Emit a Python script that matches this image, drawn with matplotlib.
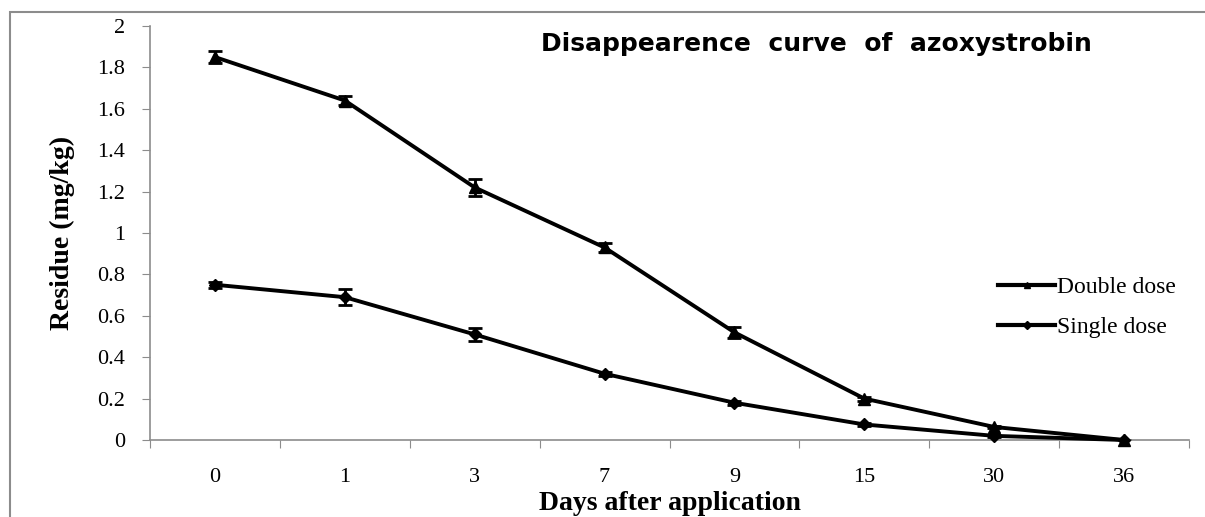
import matplotlib.pyplot as plt
import numpy as np
from matplotlib.patches import Rectangle
from matplotlib.lines import Line2D

# Days after application (categories)
days = ['0', '1', '3', '7', '9', '15', '30', '36']
double_dose = [1.85, 1.64, 1.22, 0.93, 0.52, 0.20, 0.063, 0.0]
double_err = [0.03, 0.02, 0.04, 0.02, 0.025, 0.01, 0.005, 0.0]
single_dose = [0.75, 0.69, 0.51, 0.32, 0.18, 0.075, 0.02, 0.0]
single_err = [0.015, 0.04, 0.03, 0.01, 0.01, 0.005, 0.005, 0.0]

serif = 'Liberation Serif'

fig = plt.figure(figsize=(12.05, 5.17), dpi=100)
fig.patches.append(Rectangle((10/1205, -0.1), 1.2, 1 - 12/517 + 0.1,
                             transform=fig.transFigure, fill=False,
                             edgecolor='#8c8c8c', linewidth=1.5))
ax = fig.add_axes([150/1205, 1 - 440/517, (1189 - 150)/1205, (440 - 26)/517])

x = np.arange(len(days))
eb1 = ax.errorbar(x, double_dose, yerr=double_err, color='black', marker='^',
                  markersize=8, linewidth=2.8, capsize=5, capthick=2, elinewidth=2)
eb2 = ax.errorbar(x, single_dose, yerr=single_err, color='black', marker='D',
                  markersize=6, linewidth=2.8, capsize=5, capthick=2, elinewidth=2)
for eb in (eb1, eb2):
    eb[0].set_clip_on(False)
    eb[0].set_zorder(5)

ax.set_xlim(-0.5, len(days) - 0.5)
ax.set_ylim(0, 2)
ax.set_yticks(np.arange(0, 2.01, 0.2))
ax.set_yticklabels(['0', '0.2', '0.4', '0.6', '0.8', '1', '1.2', '1.4', '1.6', '1.8', '2'],
                   fontfamily=serif, fontsize=16)
ax.set_xticks(np.arange(-0.5, len(days), 1))
ax.set_xticklabels([])
ax.set_xticks(x, minor=True)
ax.set_xticklabels(days, minor=True, fontfamily=serif, fontsize=16)
ax.tick_params(axis='x', which='minor', length=0, pad=20)
ax.tick_params(axis='x', which='major', length=6, color='#8c8c8c', direction='out')
ax.tick_params(axis='y', length=6, color='#8c8c8c', direction='out', pad=12)

for s in ['top', 'right']:
    ax.spines[s].set_visible(False)
for s in ['left', 'bottom']:
    ax.spines[s].set_color('#8c8c8c')
    ax.spines[s].set_linewidth(1.2)

ax.set_ylabel('Residue (mg/kg)', fontfamily=serif, fontweight='bold', fontsize=20, labelpad=16)
ax.set_xlabel('Days after application', fontfamily=serif, fontweight='bold', fontsize=20, labelpad=3)

fig.text(816/1205, 1 - 44/517, 'Disappearence  curve  of  azoxystrobin', ha='center', va='center',
         fontfamily='DejaVu Sans', fontweight='bold', fontsize=18)

handles = [Line2D([], [], color='black', marker='^', markersize=5, linewidth=3),
           Line2D([], [], color='black', marker='D', markersize=4, linewidth=3)]
ax.legend(handles, ['Double dose', 'Single dose'], loc='upper left',
          bbox_to_anchor=(977/1205, 1 - 255/517), bbox_transform=fig.transFigure,
          frameon=False, prop={'family': serif, 'size': 17}, handlelength=2.4,
          handletextpad=0.1, labelspacing=0.8)

fig.savefig('out.png', dpi=100)
